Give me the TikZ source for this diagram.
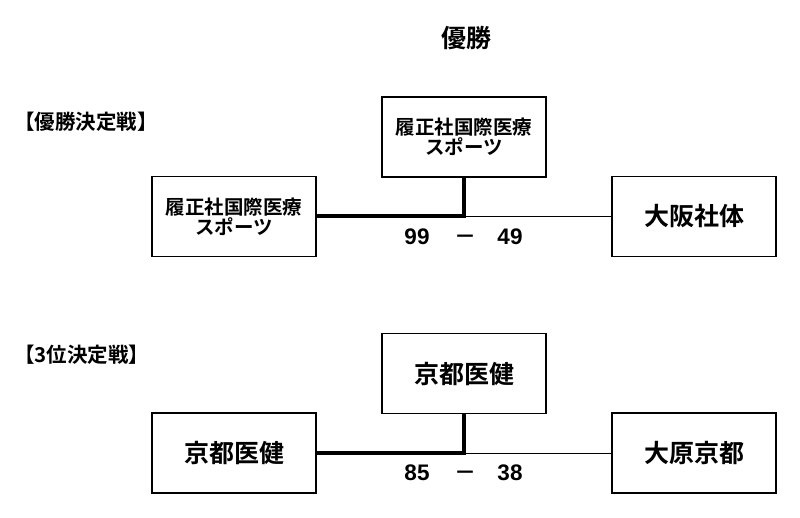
\documentclass[tikz,border=0pt]{standalone}
\usepackage{fontspec}
\setmainfont{Liberation Sans}
\newfontfamily\jpfont{Noto Sans CJK JP}[BoldFont={Noto Sans CJK JP Bold}]

\begin{document}
\begin{tikzpicture}[x=1pt, y=-1pt,
    team/.style={draw, line width=1.2pt, minimum width=164pt, minimum height=80pt,
                 inner sep=2pt, align=center,
                 font=\jpfont\bfseries\fontsize{25}{27}\selectfont},
    smallteam/.style={team, font=\jpfont\bfseries\fontsize{19.5}{20}\selectfont},
    heading/.style={anchor=west, inner sep=0pt,
                    font=\jpfont\bfseries\fontsize{20.5}{22}\selectfont},
    winner/.style={line width=4pt, line join=miter},
    loser/.style={line width=0.8pt},
    score/.style={inner sep=0pt, font=\bfseries\fontsize{22.5}{24}\selectfont},
    scoredash/.style={inner sep=0pt, font=\jpfont\bfseries\fontsize{22}{24}\selectfont}]
    \useasboundingbox (0,0) rectangle (800,518);

    \node [inner sep=0pt, font=\jpfont\bfseries\fontsize{25}{27}\selectfont]
          (champ) at (466,38) {優勝};

    % Final
    \node [heading] (final) at (14,122) {【優勝決定戦】};
    \node [smallteam] (f1) at (464,137) {履正社国際医療\\スポーツ};
    \node [smallteam] (f2) at (234,216.5) {履正社国際医療\\スポーツ};
    \node [team] (f3) at (694,216.5) {大阪社体};
    \coordinate (fj) at (f1.south |- f2.east);
    \draw [winner] (f2.east) -- (fj) -- (f1.south);
    \draw [loser] (fj) -- (f3.west);
    \node [score] (fs1) at (417,236.5) {99};
    \node [scoredash] (fd) at (465.5,239.5) {－};
    \node [score] (fs2) at (510,236.5) {49};

    % Third place
    \node [heading] (third) at (14,355) {【3位決定戦】};
    \node [team] (t1) at (464,373.5) {京都医健};
    \node [team] (t2) at (234,453) {京都医健};
    \node [team] (t3) at (694,453) {大原京都};
    \coordinate (tj) at (t1.south |- t2.east);
    \draw [winner] (t2.east) -- (tj) -- (t1.south);
    \draw [loser] (tj) -- (t3.west);
    \node [score] (ts1) at (417,473) {85};
    \node [scoredash] (td) at (465.5,476) {－};
    \node [score] (ts2) at (510,473) {38};
\end{tikzpicture}
\end{document}
